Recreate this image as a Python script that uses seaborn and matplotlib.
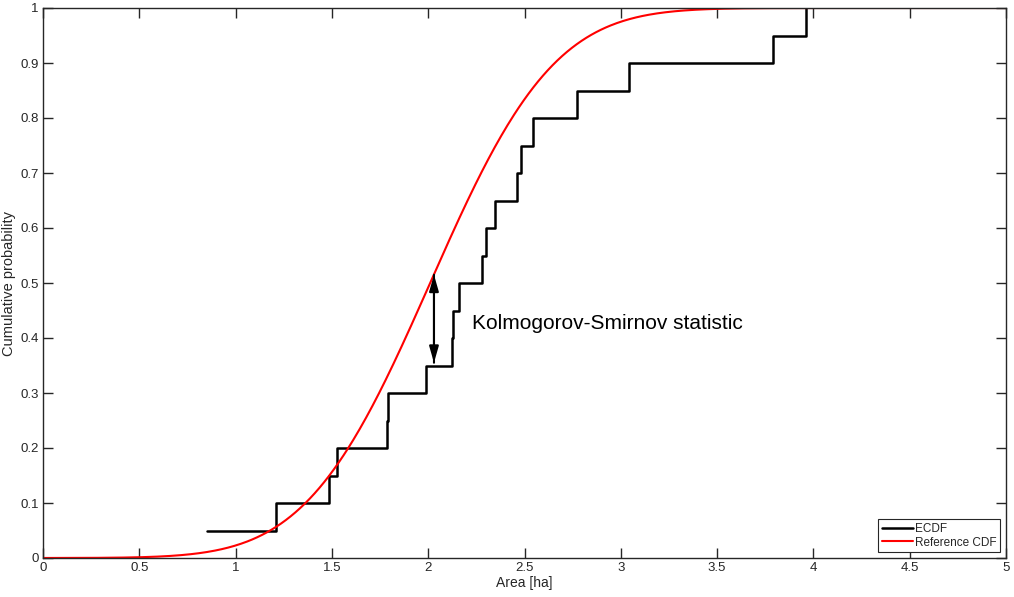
import math
import numpy as np
import pandas as pd
import seaborn as sns
import matplotlib
matplotlib.use("Agg")
import matplotlib.pyplot as plt

# ---- data ----
samples = [0.85, 1.21, 1.487, 1.525, 1.785, 1.793, 1.989, 2.125, 2.127, 2.162,
           2.279, 2.30, 2.348, 2.463, 2.483, 2.546, 2.774, 3.044, 3.792, 3.96]
ref_mean = 2.01
ref_sd = 0.505
x_ticks = [0, 0.5, 1, 1.5, 2, 2.5, 3, 3.5, 4, 4.5, 5]
x_tick_labels = ["0", "0.5", "1", "1.5", "2", "2.5", "3", "3.5", "4", "4.5", "5"]
y_ticks = [0, 0.1, 0.2, 0.3, 0.4, 0.5, 0.6, 0.7, 0.8, 0.9, 1]
y_tick_labels = ["0", "0.1", "0.2", "0.3", "0.4", "0.5", "0.6", "0.7", "0.8", "0.9", "1"]
ks_x = 2.03
ks_low = 0.355
ks_high = 0.515
ks_text = "Kolmogorov-Smirnov statistic"

# ---- derived tables ----
n = len(samples)
ecdf_df = pd.DataFrame({"x": sorted(samples),
                        "F": np.arange(1, n + 1) / n})
grid = np.linspace(0, 5, 600)
cdf = np.array([0.5 * (1 + math.erf((g - ref_mean) / (ref_sd * math.sqrt(2)))) for g in grid])
ref_df = pd.DataFrame({"x": grid, "F": cdf})

sns.set_style("ticks")
plt.rcParams["font.family"] = ["Liberation Sans", "DejaVu Sans"]
plt.rcParams["xtick.direction"] = "in"
plt.rcParams["ytick.direction"] = "in"

fig = plt.figure(figsize=(10.14, 5.97), dpi=100)
ax = fig.add_axes([43 / 1014, 39 / 597, 963 / 1014, 550 / 597])

sns.lineplot(data=ecdf_df, x="x", y="F", ax=ax, color="black", linewidth=1.8,
             drawstyle="steps-post", label="ECDF", estimator=None)
sns.lineplot(data=ref_df, x="x", y="F", ax=ax, color="#ff0000", linewidth=1.5,
             label="Reference CDF", estimator=None)

ax.annotate("", xy=(ks_x, ks_high), xytext=(ks_x, ks_low),
            arrowprops=dict(arrowstyle="-|>,head_length=0.7,head_width=0.2",
                            color="black", lw=1.5,
                            mutation_scale=14, shrinkA=0, shrinkB=0))
ax.annotate("", xy=(ks_x, ks_low), xytext=(ks_x, ks_high),
            arrowprops=dict(arrowstyle="-|>,head_length=0.7,head_width=0.2",
                            color="black", lw=1.5,
                            mutation_scale=14, shrinkA=0, shrinkB=0))
ax.text(2.23, 0.427, ks_text, fontsize=15, va="center", ha="left", color="black")

ax.set_xlim(0, 5)
ax.set_ylim(0, 1)
ax.set_xticks(x_ticks)
ax.set_xticklabels(x_tick_labels)
ax.set_yticks(y_ticks)
ax.set_yticklabels(y_tick_labels)
ax.tick_params(axis="both", which="both", direction="in", length=7, width=1,
               labelsize=9.5, colors="#262626", top=True, right=True, pad=3)
ax.set_xlabel("Area [ha]", fontsize=10, color="#262626", labelpad=1)
ax.set_ylabel("Cumulative probability", fontsize=10.5, color="#262626", labelpad=3)
for s in ax.spines.values():
    s.set_visible(True)
    s.set_color("#262626")
    s.set_linewidth(1.0)

leg = ax.legend(loc="lower right", fontsize=8.5, frameon=True, fancybox=False,
                edgecolor="#262626", framealpha=1, handlelength=2.6,
                borderpad=0.3, labelspacing=0.15, handletextpad=0.2,
                borderaxespad=0.5)
leg.get_frame().set_linewidth(0.8)

fig.savefig("out.png", dpi=100)
